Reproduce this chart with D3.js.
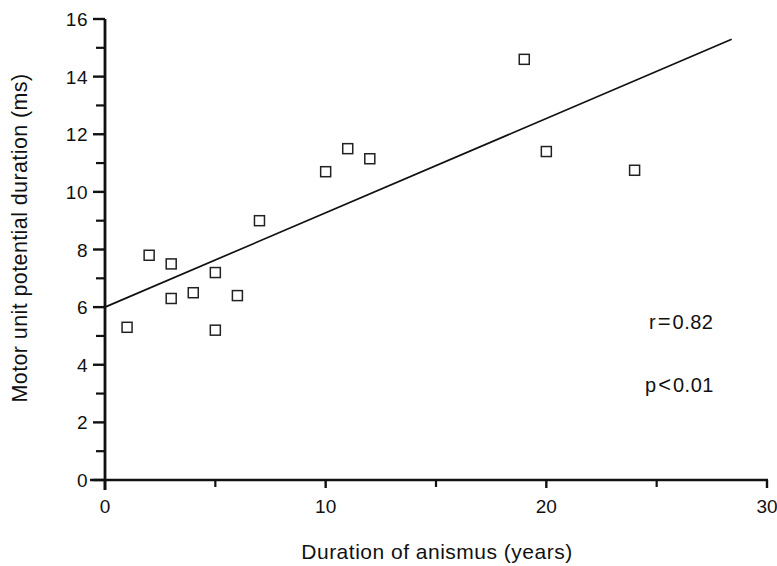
<!DOCTYPE html>
<html>
<head>
<meta charset="utf-8">
<script src="https://cdn.jsdelivr.net/npm/d3@7"></script>
<style>
  html, body { margin: 0; padding: 0; background: #fff; }
  svg { display: block; }
  text { font-family: "Liberation Sans", Arial, Helvetica, sans-serif; fill: #111; }
</style>
</head>
<body>
<script>
// Data
const durationYears = [1, 2, 3, 3, 4, 5, 5, 6, 7, 10, 11, 12, 19, 20, 24];
const mupDuration   = [5.3, 7.8, 7.5, 6.3, 6.5, 7.2, 5.2, 6.4, 9.0, 10.7, 11.5, 11.15, 14.6, 11.4, 10.75];
const fitX = [0, 28.4];
const fitY = [6.0, 15.3];
const xMajorTicks = [0, 10, 20, 30];
const xMinorTicks = [5, 15, 25];
const yMajorTicks = [0, 2, 4, 6, 8, 10, 12, 14, 16];
const yMinorTicks = [1, 3, 5, 7, 9, 11, 13, 15];
const statR = ["r", "=", "0.82"];
const statP = ["p", "<", "0.01"];

const W = 777, H = 566;
const svg = d3.select("body").append("svg").attr("width", W).attr("height", H);

const x = d3.scaleLinear().domain([0, 30]).range([105, 767]);
const y = d3.scaleLinear().domain([0, 16]).range([480, 19]);
const ink = "#111";

// X axis
const gx = svg.append("g");
gx.append("line").attr("x1", 90).attr("x2", x(30) + 1).attr("y1", y(0)).attr("y2", y(0))
  .attr("stroke", ink).attr("stroke-width", 2.6);
gx.selectAll("line.tmaj").data(xMajorTicks).join("line").attr("class", "tmaj")
  .attr("x1", d => x(d)).attr("x2", d => x(d)).attr("y1", y(0)).attr("y2", d => d === 0 ? y(0) + 10 : y(0) + 8)
  .attr("stroke", ink).attr("stroke-width", 2.4);
gx.selectAll("line.tmin").data(xMinorTicks).join("line").attr("class", "tmin")
  .attr("x1", d => x(d)).attr("x2", d => x(d)).attr("y1", y(0)).attr("y2", y(0) + 7)
  .attr("stroke", ink).attr("stroke-width", 2.2);
gx.selectAll("text").data(xMajorTicks).join("text")
  .attr("x", d => x(d)).attr("y", 513).attr("text-anchor", "middle")
  .attr("font-size", 19).text(d => d);

// Y axis
const gy = svg.append("g");
gy.append("line").attr("x1", x(0)).attr("x2", x(0)).attr("y1", y(16)).attr("y2", y(0) + 10)
  .attr("stroke", ink).attr("stroke-width", 2.8);
gy.selectAll("line.tmaj").data(yMajorTicks).join("line").attr("class", "tmaj")
  .attr("x1", x(0) - 12).attr("x2", x(0)).attr("y1", d => y(d)).attr("y2", d => y(d))
  .attr("stroke", ink).attr("stroke-width", 2.4);
gy.selectAll("line.tmin").data(yMinorTicks).join("line").attr("class", "tmin")
  .attr("x1", x(0) - 9).attr("x2", x(0)).attr("y1", d => y(d)).attr("y2", d => y(d))
  .attr("stroke", ink).attr("stroke-width", 2.2);
gy.selectAll("text").data(yMajorTicks).join("text")
  .attr("x", 88).attr("y", d => y(d) + 7).attr("text-anchor", "end")
  .attr("font-size", 19).attr("letter-spacing", 0.5).text(d => d);

// Axis titles
svg.append("text").attr("x", 437).attr("y", 559).attr("text-anchor", "middle")
  .attr("font-size", 21).attr("letter-spacing", 0.5).text("Duration of anismus (years)");
svg.append("text").attr("transform", "translate(27,238) rotate(-90)").attr("text-anchor", "middle")
  .attr("font-size", 21.5).attr("letter-spacing", 0.4).text("Motor unit potential duration (ms)");

// Regression line
const line = d3.line().x(d => x(d[0])).y(d => y(d[1]));
svg.append("path").datum(d3.zip(fitX, fitY)).attr("d", line)
  .attr("fill", "none").attr("stroke", ink).attr("stroke-width", 1.7);

// Points (open squares)
const s = 10;
svg.selectAll("rect.pt").data(d3.zip(durationYears, mupDuration)).join("rect").attr("class", "pt")
  .attr("x", d => x(d[0]) - s / 2).attr("y", d => y(d[1]) - s / 2)
  .attr("width", s).attr("height", s)
  .attr("fill", "#fff").attr("stroke", "#222").attr("stroke-width", 1.5);

// Stats text
function stat(parts, x0, y0) {
  const t = svg.append("text").attr("x", x0).attr("y", y0).attr("font-size", 20).attr("letter-spacing", 0.5);
  t.append("tspan").text(parts[0]);
  t.append("tspan").attr("dx", 1.5).attr("font-size", 22).text(parts[1]);
  t.append("tspan").attr("dx", 1.5).text(parts[2]);
}
stat(statR, 649, 329);
stat(statP, 645, 392);
</script>
</body>
</html>
